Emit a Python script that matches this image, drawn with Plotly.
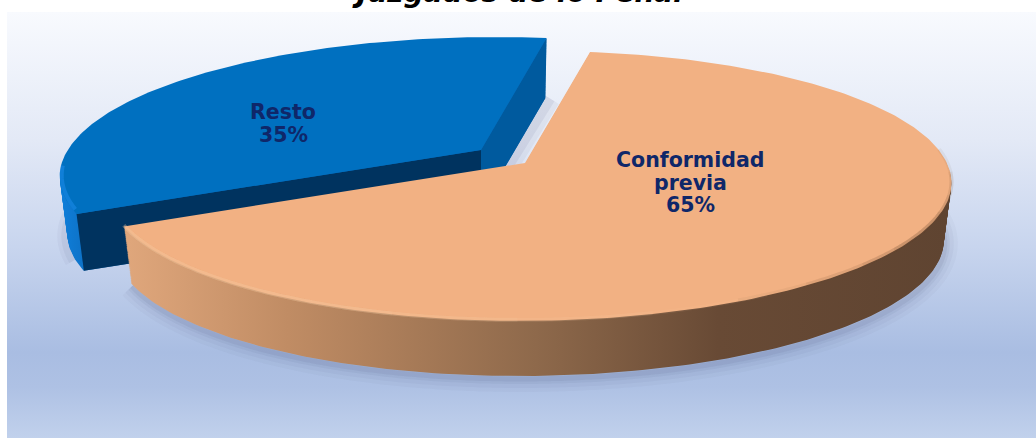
import numpy as np
import plotly.graph_objects as go

# --- data ---
categories = ["Conformidad previa", "Resto"]
values = [65, 35]
label_lines = [["Conformidad", "previa"], ["Resto"]]
title_text = "Juzgados de lo Penal"

# --- projection of the tilted disc ---
A, B, K, J, SHEAR = 416, 131, 0.17, 0.010, 0.008
START_DEG = 10.5
DEPTH = 58
CENTERS = {"Conformidad previa": (525, 163), "Resto": (481, 150)}
RADIUS = {"Conformidad previa": 1.0, "Resto": 1.008}
NAVY = "#0f2769"

def ring(cat, t, f=0.0):
    """Disc rim at angle t, f = 0 top face ... 1 bottom face."""
    center = CENTERS[cat]
    t = np.radians(t)
    d = 1 + K * np.cos(t) - J * np.sin(t)
    s = (1 - 0.018 * f) * RADIUS[cat]
    u = s * A * np.sin(t) / d
    v = s * B * np.cos(t) / d
    return center[0] + u, center[1] - v - SHEAR * u + DEPTH * f

sweeps = [v / sum(values) * 360 for v in values]
t0_o, t1_o = START_DEG, START_DEG + sweeps[0]
t0_b, t1_b = t1_o, t1_o + sweeps[1]
ORANGE, BLUE = categories
co, cb = CENTERS[ORANGE], CENTERS[BLUE]

fig = go.Figure()

def poly(x, y, color=None, grad=None, name=""):
    kw = dict(x=list(x), y=list(y), mode="lines", fill="toself", line=dict(width=0),
              hoverinfo="skip", showlegend=False, name=name)
    if grad:
        kw["fillgradient"] = grad
        kw["fillcolor"] = "rgba(0,0,0,0)"
    else:
        kw["fillcolor"] = color
    fig.add_trace(go.Scatter(**kw))

def stroke(x, y, color, width):
    fig.add_trace(go.Scatter(x=list(x), y=list(y), mode="lines",
                             line=dict(color=color, width=width, shape="spline", smoothing=0.4),
                             hoverinfo="skip", showlegend=False))

# panel background
poly([7, 1036, 1036, 7, 7], [12, 12, 438, 438, 12],
     grad=dict(type="vertical", start=12, stop=438,
               colorscale=[[0, "#f8fafe"], [0.3, "#e3e9f6"], [0.55, "#c8d5ee"],
                           [0.8, "#a9bde2"], [0.88, "#aec1e4"], [1, "#c1d1ec"]]))

# soft shadows
t_o = np.linspace(t0_o, t1_o, 240)
xl, yl = ring(ORANGE, t_o, 1)
for w, a in [(26, 0.03), (18, 0.04), (10, 0.06), (5, 0.07)]:
    stroke(xl[60:] + 1, yl[60:] + 3, f"rgba(50,60,100,{a})", w)
t_s = np.linspace(t0_b + 5, t0_b + 55, 60)
xs, ys = ring(BLUE, t_s, 1)
for w, a in [(16, 0.04), (8, 0.06)]:
    stroke(xs - 2, ys + 2, f"rgba(50,60,100,{a})", w)
xr0, yr0 = ring(BLUE, np.array([t1_b]), 1)
for w, a in [(22, 0.06), (12, 0.08)]:
    stroke([cb[0], xr0[0] + 4], [cb[1] + DEPTH, yr0[0]], f"rgba(60,70,110,{a})", w)

FRACTIONS = np.linspace(1, 0.02, 50)

# blue slice: rim swept from the bottom face up, then the two cut faces
t_b = np.linspace(t0_b, t1_b, 160)
blue_grad = dict(type="horizontal", start=58, stop=120,
                 colorscale=[[0, "#0f80dc"], [0.6, "#0d6cbe"], [1, "#0a62ac"]])
for f in FRACTIONS:
    x, y = ring(BLUE, t_b, f)
    poly(np.r_[cb[0], x, cb[0]], np.r_[cb[1] + DEPTH * f, y, cb[1] + DEPTH * f], grad=blue_grad)
bx, by = ring(BLUE, t_b)
lx, ly = ring(BLUE, t_b, 1)
poly([bx[-1], cb[0], cb[0], lx[-1]], [by[-1], cb[1], cb[1] + DEPTH, ly[-1]], color="#005a9e")
poly([bx[0], cb[0], cb[0], lx[0]], [by[0], cb[1], cb[1] + DEPTH, ly[0]], color="#00335f")
poly(np.r_[cb[0], bx, cb[0]], np.r_[cb[1], by, cb[1]], color="#0070c0")
stroke(bx[2:26] + 2, by[2:26] - 1, "rgba(30,140,235,0.55)", 4)

# orange slice: rim swept from the bottom face up, then the top face
orange_grad = dict(type="horizontal", start=123, stop=950,
                   colorscale=[[0, "#e0a77c"], [0.2, "#c08c64"], [0.5, "#8e694b"],
                               [0.72, "#684a35"], [1, "#5f4431"]])
for f in FRACTIONS:
    x, y = ring(ORANGE, t_o, f)
    poly(np.r_[co[0], x, co[0]], np.r_[co[1] + DEPTH * f, y, co[1] + DEPTH * f], grad=orange_grad)
ox, oy = ring(ORANGE, t_o)
poly(np.r_[co[0], ox, co[0]], np.r_[co[1], oy, co[1]], color="#f2b183")
# bevel: highlight on the front-left rim, soft dark toward the right, both tapering
for lo, a in [(150, 0.08), (165, 0.10), (180, 0.12), (195, 0.12)]:
    part = t_o > lo
    stroke(ox[part], oy[part] - 1, f"rgba(250,205,165,{a})", 4)
for lo, hi, a in [(85, 155, 0.07), (95, 145, 0.08), (105, 135, 0.09), (112, 128, 0.09)]:
    part = (t_o > lo) & (t_o < hi)
    stroke(ox[part], oy[part] - 1, f"rgba(110,80,55,{a})", 4)

# labels
annos = [dict(x=517, y=11, yanchor="bottom", xanchor="center", text=f"<b><i>{title_text}</i></b>",
              showarrow=False, font=dict(family="DejaVu Sans", size=28, color="#000000"),
              xref="x", yref="y")]
positions = {ORANGE: (690, 160), BLUE: (283, 112)}
for cat, val, lines in zip(categories, values, label_lines):
    px, py = positions[cat]
    for i, t in enumerate(lines + [f"{val}%"]):
        annos.append(dict(x=px, y=py + i * 22.5, xref="x", yref="y", text=f"<b>{t}</b>",
                          showarrow=False, font=dict(family="DejaVu Sans", size=20.5, color=NAVY)))

fig.update_layout(
    width=1036, height=438, margin=dict(l=0, r=0, t=0, b=0),
    paper_bgcolor="white", plot_bgcolor="white", annotations=annos,
    xaxis=dict(range=[0, 1036], visible=False, fixedrange=True),
    yaxis=dict(range=[438, 0], visible=False, fixedrange=True),
)
fig.write_html("out.html", config={"displayModeBar": False},
               post_script="document.body.style.margin='0';document.body.style.overflow='hidden';")
